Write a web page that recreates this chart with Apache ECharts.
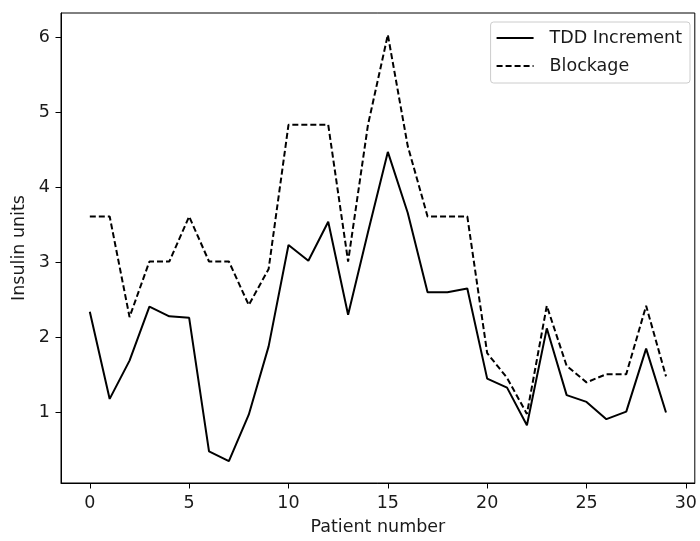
<!DOCTYPE html>
<html>
<head>
<meta charset="utf-8">
<script src="https://cdn.jsdelivr.net/npm/echarts@6/dist/echarts.min.js"></script>
<style>
  html, body { margin: 0; padding: 0; background: #fff; }
  #chart { width: 700px; height: 541px; }
</style>
</head>
<body>
<div id="chart"></div>
<script>
// patient index 0..29
const patients = [0,1,2,3,4,5,6,7,8,9,10,11,12,13,14,15,16,17,18,19,20,21,22,23,24,25,26,27,28,29]
const tddIncrement = [2.34,1.18,1.69,2.41,2.28,2.26,0.48,0.35,0.97,1.88,3.23,3.02,3.54,2.30,3.40,4.47,3.66,2.60,2.60,2.65,1.45,1.33,0.83,2.12,1.23,1.14,0.91,1.01,1.85,1.00]
const blockage = [3.61,3.61,2.27,3.01,3.01,3.61,3.01,3.01,2.43,2.91,4.83,4.83,4.83,3.01,4.83,6.03,4.55,3.61,3.61,3.61,1.79,1.46,0.98,2.42,1.62,1.40,1.51,1.51,2.42,1.48]
const xTicks = [0,5,10,15,20,25,30]
const yTicks = [1,2,3,4,5,6]

const font = 'DejaVu Sans'
const txt = '#1a1a1a'
const fs = 17.5

const chart = echarts.init(document.getElementById('chart'))
chart.setOption({
  backgroundColor: '#fff',
  animation: false,
  textStyle: { fontFamily: font },
  grid: { left: 61, right: 2, top: 13, bottom: 53, show: true, borderColor: '#000', borderWidth: 1 },
  legend: {
    orient: 'vertical',
    right: 10, top: 22,
    padding: [7, 8, 8, 5],
    itemWidth: 37, itemHeight: 14, itemGap: 10,
    borderColor: '#ccc', borderWidth: 1, borderRadius: 3,
    itemStyle: { color: 'transparent', borderWidth: 0, opacity: 0 },
    textStyle: { fontFamily: font, fontSize: fs, color: txt, padding: [0, 0, 0, 11] },
    data: ['TDD Increment', 'Blockage']
  },
  xAxis: {
    type: 'value', min: -1.45, max: 30.45,
    name: 'Patient number', nameLocation: 'middle', nameGap: 35,
    nameTextStyle: { fontFamily: font, fontSize: fs, color: txt },
    axisLine: { show: true, onZero: false, lineStyle: { color: '#000', width: 1 } },
    axisTick: { show: true, length: 5.5, lineStyle: { color: '#000' }, customValues: xTicks },
    axisLabel: { fontFamily: font, fontSize: fs, color: txt, margin: 11, customValues: xTicks },
    splitLine: { show: false }
  },
  yAxis: {
    type: 'value', min: 0.06, max: 6.32,
    name: 'Insulin units', nameLocation: 'middle', nameGap: 32, nameRotate: 90,
    nameTextStyle: { fontFamily: font, fontSize: fs, color: txt },
    axisLine: { show: true, onZero: false, lineStyle: { color: '#000', width: 1 } },
    axisTick: { show: true, length: 5.5, lineStyle: { color: '#000' }, customValues: yTicks },
    axisLabel: { fontFamily: font, fontSize: fs, color: txt, margin: 11, customValues: yTicks },
    splitLine: { show: false }
  },
  series: [
    {
      name: 'TDD Increment', type: 'line', symbol: 'none',
      data: patients.map((p, i) => [p, tddIncrement[i]]),
      lineStyle: { color: '#000', width: 2 }, itemStyle: { color: '#000' }
    },
    {
      name: 'Blockage', type: 'line', symbol: 'none',
      data: patients.map((p, i) => [p, blockage[i]]),
      lineStyle: { color: '#000', width: 2, type: [6, 3] }, itemStyle: { color: '#000' }
    }
  ]
})
</script>
</body>
</html>
